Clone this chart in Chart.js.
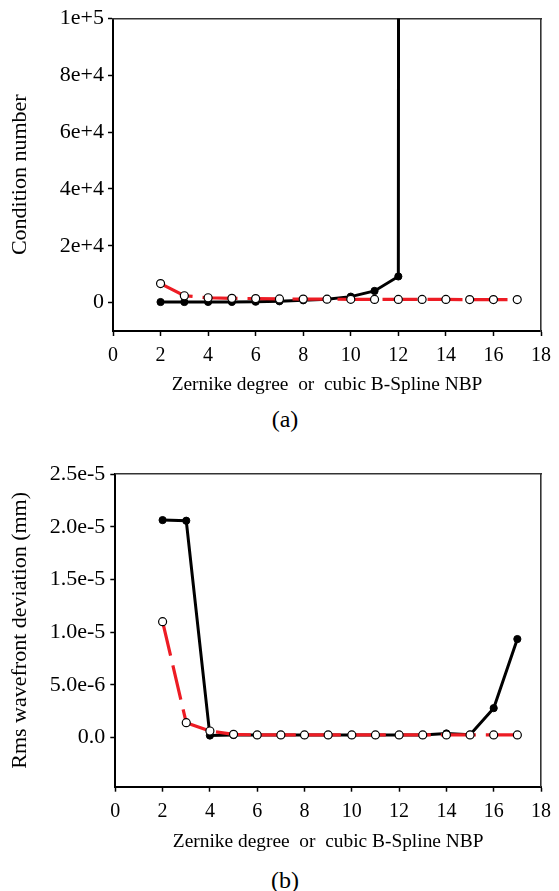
<!DOCTYPE html>
<html>
<head>
<meta charset="utf-8">
<script src="https://cdn.jsdelivr.net/npm/chart.js@4.4.1/dist/chart.umd.min.js"></script>
<style>
  body { margin: 0; background: #fff; width: 559px; height: 891px; position: relative; overflow: hidden; font-family: "Liberation Serif", "Times New Roman", serif; }
  .chartBox { position: absolute; left: 0; width: 559px; }
  #boxA { top: 0; height: 400px; }
  #boxB { top: 440px; height: 420px; }
  .caption { position: absolute; left: 245px; width: 80px; text-align: center; font-size: 24px; line-height: 24px; color: #000; }
  #capA { top: 407px; }
  #capB { top: 868px; }
</style>
</head>
<body>
<div class="chartBox" id="boxA"><canvas id="chartA"></canvas></div>
<div class="caption" id="capA">(a)</div>
<div class="chartBox" id="boxB"><canvas id="chartB"></canvas></div>
<div class="caption" id="capB">(b)</div>
<script>
// x positions (Zernike degree / NBP)
const degreesOpen = [2, 3, 4, 5, 6, 7, 8, 9, 10, 11, 12, 13, 14, 15, 16, 17];
const degreesFilledA = [2, 3, 4, 5, 6, 7, 8, 9, 10, 11, 12, 13];
const degreesFilledB = [2, 3, 4, 5, 6, 7, 8, 9, 10, 11, 12, 13, 14, 15, 16, 17];

// (a) condition number
const condOpen = [6700, 2400, 1700, 1500, 1400, 1300, 1250, 1200, 1150, 1100, 1100, 1100, 1100, 1050, 1050, 1050];
const condFilled = [200, 200, 220, 250, 300, 450, 800, 1200, 2100, 4100, 9200, 50000000];

// (b) rms wavefront deviation (mm)
const rmsOpen = [1.1e-5, 1.42e-6, 6.3e-7, 3.2e-7, 2.6e-7, 2.6e-7, 2.6e-7, 2.6e-7, 2.6e-7, 2.6e-7, 2.6e-7, 2.6e-7, 2.6e-7, 2.6e-7, 2.6e-7, 2.6e-7];
const rmsFilled = [2.063e-5, 2.057e-5, 2e-7, 2.5e-7, 2.5e-7, 2.5e-7, 2.5e-7, 2.5e-7, 2.5e-7, 2.5e-7, 2.5e-7, 2.5e-7, 4e-7, 2.8e-7, 2.8e-6, 9.35e-6];

// tick labels
const xTickValues = [0, 2, 4, 6, 8, 10, 12, 14, 16, 18];
const condTickValues = [0, 20000, 40000, 60000, 80000, 100000];
const condTickLabels = ["0", "2e+4", "4e+4", "6e+4", "8e+4", "1e+5"];
const rmsTickValues = [0, 5e-6, 1e-5, 1.5e-5, 2e-5, 2.5e-5];
const rmsTickLabels = ["0.0", "5.0e-6", "1.0e-5", "1.5e-5", "2.0e-5", "2.5e-5"];

const xTitle = "Zernike degree  or  cubic B-Spline NBP";
const redColor = "#ed1c24";
const fontName = "Liberation Serif";

const toPoints = (xs, ys) => xs.map((x, i) => ({ x: x, y: ys[i] }));

const openSeries = (xs, ys) => ({
  data: toPoints(xs, ys),
  borderColor: redColor,
  borderWidth: 3.2,
  borderDash: [35, 10],
  pointRadius: 4,
  pointBackgroundColor: "#fff",
  pointBorderColor: "#000",
  pointBorderWidth: 1.2,
  tension: 0,
});

const filledSeries = (xs, ys) => ({
  data: toPoints(xs, ys),
  borderColor: "#000",
  borderWidth: 3,
  pointRadius: 3.6,
  pointBackgroundColor: "#000",
  pointBorderColor: "#000",
  pointBorderWidth: 1,
  tension: 0,
});

const frameAxis = (position) => ({
  position: position,
  display: true,
  ticks: { display: false },
  grid: { display: false, drawTicks: false },
  border: { display: true, color: "#333", width: 1.6 },
  afterFit: (scale) => {
    if (position === "top") scale.height = 0;
    else scale.width = 0;
  },
});

const makeChart = (canvasId, cfg) => {
  const ctx = document.getElementById(canvasId);
  const Config = {
    type: "line",
    data: {
      datasets: [openSeries(cfg.xOpen, cfg.yOpen), filledSeries(cfg.xFilled, cfg.yFilled)],
    },
    options: {
      responsive: true,
      maintainAspectRatio: false,
      animation: false,
      events: [],
      layout: { padding: { left: 0, top: cfg.top, right: cfg.right, bottom: 0 } },
      plugins: { legend: { display: false }, tooltip: { enabled: false } },
      scales: {
        x: {
          type: "linear",
          position: "bottom",
          min: 0,
          max: 18,
          afterBuildTicks: (scale) => {
            scale.ticks = xTickValues.map((v) => ({ value: v }));
          },
          afterFit: (scale) => {
            scale.height = cfg.xHeight;
          },
          ticks: {
            color: "#000",
            font: { family: fontName, size: 20 },
            padding: 8,
            maxRotation: 0,
            autoSkip: false,
            callback: (value) => `${value}`,
          },
          grid: { display: true, drawOnChartArea: false, drawTicks: true, tickLength: 5, tickWidth: 1.5, tickColor: "#000" },
          border: { display: true, color: "#000", width: 2 },
          title: {
            display: true,
            text: xTitle,
            color: "#000",
            font: { family: fontName, size: 19.4 },
            padding: { top: 0, bottom: cfg.xTitlePad },
          },
        },
        y: {
          type: "linear",
          position: "left",
          min: cfg.yMin,
          max: cfg.yMax,
          afterBuildTicks: (scale) => {
            scale.ticks = cfg.yTicks.map((v) => ({ value: v }));
          },
          afterFit: (scale) => {
            scale.width = cfg.left;
          },
          ticks: {
            color: "#000",
            font: { family: fontName, size: 22 },
            padding: cfg.yTickPad,
            autoSkip: false,
            callback: (value, index) => cfg.yLabels[index],
          },
          grid: { display: true, drawOnChartArea: false, drawTicks: true, tickLength: 5, tickWidth: 1.5, tickColor: "#000" },
          border: { display: true, color: "#000", width: 2 },
          title: {
            display: true,
            text: cfg.yTitle,
            color: "#000",
            font: { family: fontName, size: 22 },
            padding: { top: 7, bottom: 0 },
          },
        },
        xTop: frameAxis("top"),
        yRight: frameAxis("right"),
      },
    },
  };
  return new Chart(ctx, Config);
};

window.onload = function startPage() {
  makeChart("chartA", {
    xOpen: degreesOpen,
    yOpen: condOpen,
    xFilled: degreesFilledA,
    yFilled: condFilled,
    yMin: -10000,
    yMax: 100000,
    yTicks: condTickValues,
    yLabels: condTickLabels,
    yTitle: "Condition number",
    top: 18.5,
    right: 14,
    left: 113,
    xHeight: 69,
    xTitlePad: 3,
    yTickPad: 4,
  });
  makeChart("chartB", {
    xOpen: degreesOpen,
    yOpen: rmsOpen,
    xFilled: degreesFilledB,
    yFilled: rmsFilled,
    yMin: -4.65e-6,
    yMax: 2.5e-5,
    yTicks: rmsTickValues,
    yLabels: rmsTickLabels,
    yTitle: "Rms wavefront deviation (mm)",
    top: 34,
    right: 11.3,
    left: 115.3,
    xHeight: 73.3,
    xTitlePad: 6,
    yTickPad: 5,
  });
};
</script>
</body>
</html>
